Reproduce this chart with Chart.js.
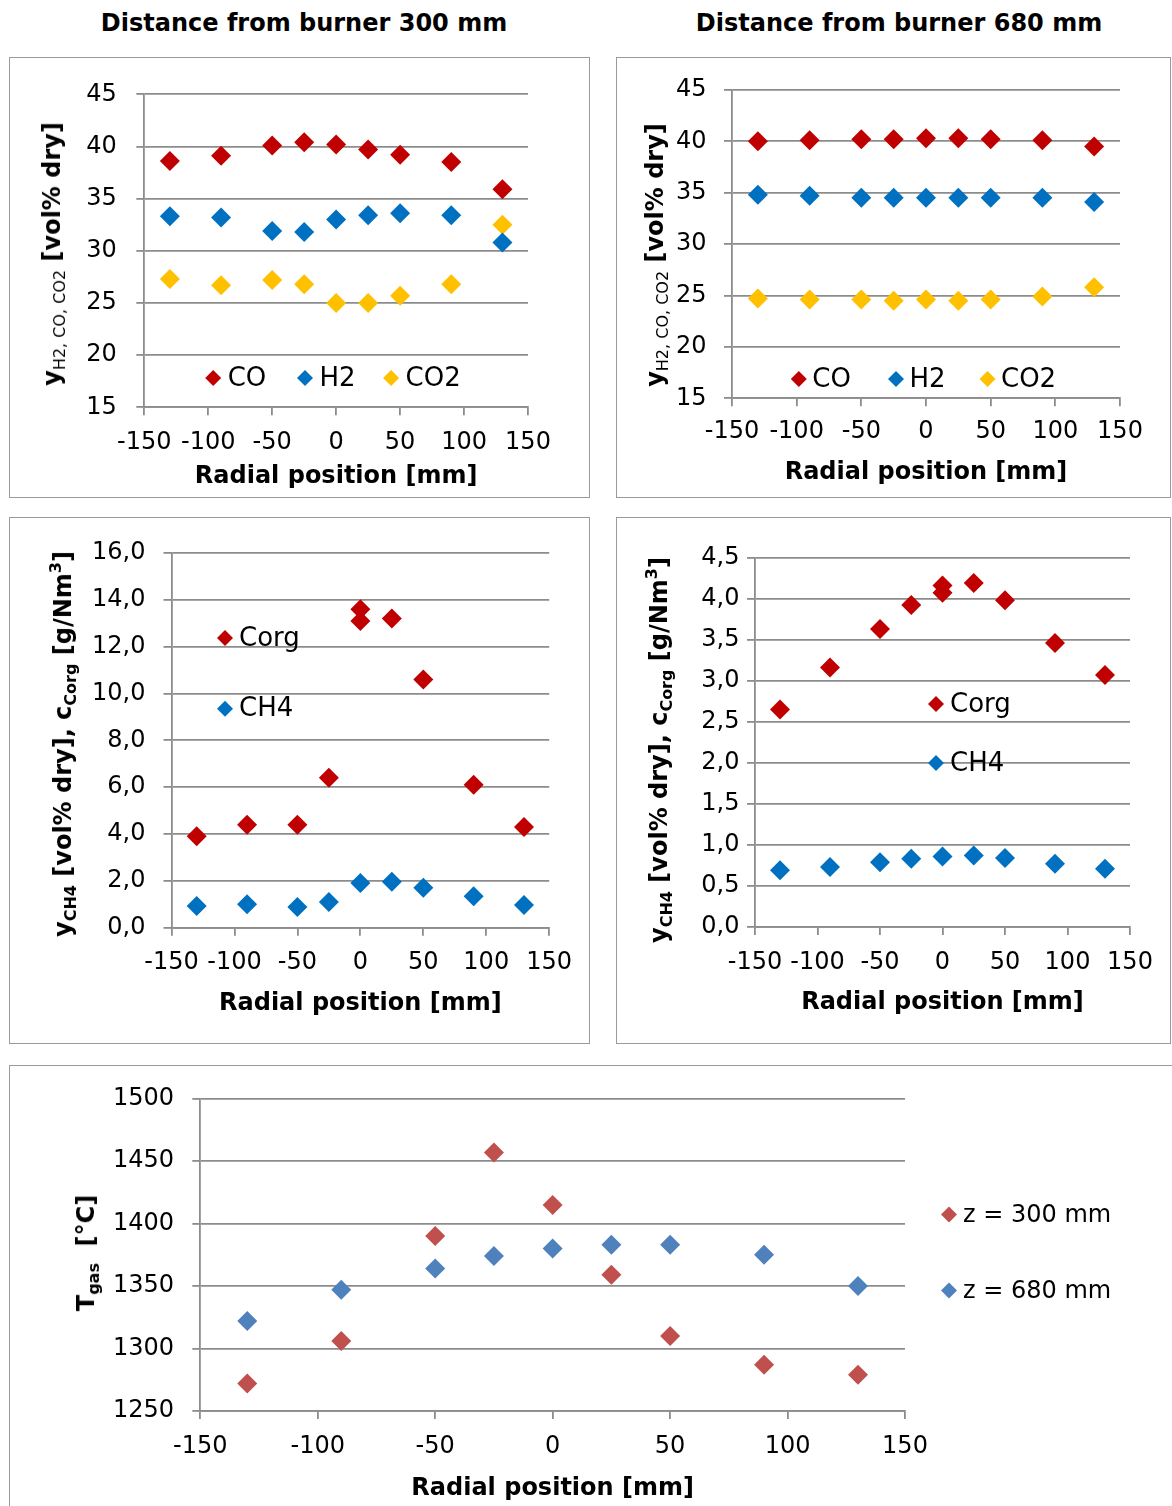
<!DOCTYPE html>
<html><head><meta charset="utf-8">
<script src="https://cdn.jsdelivr.net/npm/chart.js@4.4.1/dist/chart.umd.min.js"></script>
<style>
html,body{margin:0;padding:0;background:#fff;}
body{width:1172px;height:1506px;overflow:hidden;position:relative;font-family:'DejaVu Sans',sans-serif;color:#000;}
.box{position:absolute;border:1px solid #9a9a9a;box-sizing:border-box;}
.box canvas{position:absolute;left:0;top:0;}
.head{position:absolute;transform:translate(-50%,-50%);font-weight:bold;font-size:24px;white-space:nowrap;}
.ytitle{position:absolute;left:0;top:0;transform:translate(-50%,-50%) rotate(-90deg);font-weight:bold;font-size:24px;white-space:nowrap;line-height:1;}
.ytitle sub{font-size:16px;vertical-align:-5px;line-height:0;}
.ytitle sub.n{font-weight:normal;}
.ytitle sup{font-size:16px;vertical-align:10px;line-height:0;}
</style>
</head><body>
<div class="head" style="left:304px;top:23px">Distance from burner 300 mm</div>
<div class="head" style="left:899px;top:23px">Distance from burner 680 mm</div>

<div class="box" id="b1"><canvas id="c1"></canvas></div>
<div class="box" id="b2"><canvas id="c2"></canvas></div>
<div class="box" id="b3"><canvas id="c3"></canvas></div>
<div class="box" id="b4"><canvas id="c4"></canvas></div>
<div class="box" id="b5"><canvas id="c5"></canvas></div>

<div class="ytitle" style="left:52px;top:254px">y<sub class="n">H2, CO, CO2</sub> [vol% dry]</div>
<div class="ytitle" style="left:655px;top:255px">y<sub class="n">H2, CO, CO2</sub> [vol% dry]</div>
<div class="ytitle" style="left:63px;top:744px">y<sub>CH4</sub> [vol% dry], c<sub>Corg</sub> [g/Nm<sup>3</sup>]</div>
<div class="ytitle" style="left:659px;top:750px">y<sub>CH4</sub> [vol% dry], c<sub>Corg</sub> [g/Nm<sup>3</sup>]</div>
<div class="ytitle" style="left:86px;top:1253px">T<sub>gas</sub>&nbsp; [°C]</div>

<script>
// ---------- data ----------
const radialPos = [-130, -90, -50, -25, 0, 25, 50, 90, 130];
const radialPosCorg = [-130, -90, -50, -25, 0, 0, 25, 50, 90, 130];

const co300 = [38.6, 39.1, 40.1, 40.4, 40.2, 39.7, 39.2, 38.5, 35.9];
const h2_300 = [33.3, 33.2, 31.9, 31.8, 33.0, 33.4, 33.6, 33.4, 30.8];
const co2_300 = [27.3, 26.7, 27.2, 26.8, 25.0, 25.0, 25.7, 26.8, 32.5];

const co680 = [40.0, 40.1, 40.2, 40.2, 40.3, 40.3, 40.2, 40.1, 39.5];
const h2_680 = [34.8, 34.7, 34.5, 34.5, 34.5, 34.5, 34.5, 34.5, 34.1];
const co2_680 = [24.7, 24.6, 24.6, 24.5, 24.6, 24.5, 24.6, 24.9, 25.8];

const corg300 = [3.9, 4.4, 4.4, 6.4, 13.6, 13.1, 13.2, 10.6, 6.1, 4.3];
const ch4_300 = [0.93, 1.0, 0.88, 1.10, 1.91, 1.96, 1.71, 1.34, 0.97];

const corg680 = [2.65, 3.16, 3.63, 3.92, 4.16, 4.07, 4.19, 3.98, 3.46, 3.07];
const ch4_680 = [0.69, 0.73, 0.79, 0.83, 0.86, 0.87, 0.84, 0.77, 0.71];

const tgas300 = [1272, 1306, 1390, 1457, 1415, 1359, 1310, 1287, 1279];
const tgas680 = [1322, 1347, 1364, 1374, 1380, 1383, 1383, 1375, 1350];

const xTicks = [-150, -100, -50, 0, 50, 100, 150];
const yTicksGas = [15, 20, 25, 30, 35, 40, 45];
const yTicksC300 = [0, 2, 4, 6, 8, 10, 12, 14, 16];
const yTicksC680 = [0, 0.5, 1, 1.5, 2, 2.5, 3, 3.5, 4, 4.5];
const yTicksT = [1250, 1300, 1350, 1400, 1450, 1500];

// ---------- styles ----------
const FONT = "'DejaVu Sans', sans-serif";
const GRID = '#8c8c8c';
const GW = 1.8;
const RED = '#C00000', BLUE = '#0070C0', YEL = '#FFC000';
const RED2 = '#C0504D', BLUE2 = '#4F81BD';

Chart.defaults.font.family = FONT;
Chart.defaults.color = '#000';

const pts = (xs, ys) => ys.map((v, i) => ({x: xs[i], y: v}));

function ds(label, xs, ys, color) {
  return {label, data: pts(xs, ys), backgroundColor: color, borderColor: color,
          pointStyle: 'rectRot', pointRadius: 10, pointHoverRadius: 10, borderWidth: 0, showLine: false};
}

const floatLegend = {
  id: 'floatLegend',
  afterDatasetsDraw(chart, args, o) {
    const {ctx, chartArea: ca} = chart;
    ctx.save();
    ctx.font = o.size + 'px ' + FONT;
    ctx.textBaseline = 'middle';
    ctx.textAlign = 'left';
    chart.data.datasets.forEach((d, i) => {
      const x = ca.left + (o.dir === 'row' ? o.xs[i] : o.x);
      const y = ca.top + (o.dir === 'row' ? o.y : o.y + i * o.step);
      ctx.fillStyle = d.backgroundColor;
      ctx.beginPath();
      ctx.moveTo(x - o.r, y); ctx.lineTo(x, y - o.r); ctx.lineTo(x + o.r, y); ctx.lineTo(x, y + o.r);
      ctx.closePath(); ctx.fill();
      ctx.fillStyle = '#000';
      ctx.fillText(d.label, x + o.gap, y + 1);
    });
    ctx.restore();
  }
};

function build(id, geo, datasets, yTicks, yFmt, legend) {
  const box = document.getElementById('b' + id);
  const cv = document.getElementById('c' + id);
  box.style.left = geo.box[0] + 'px';
  box.style.top = geo.box[1] + 'px';
  box.style.width = (geo.box[2] - geo.box[0]) + 'px';
  box.style.height = (geo.box[3] - geo.box[1]) + 'px';
  const ox = geo.box[0] + 1, oy = geo.box[1] + 1;
  const W = geo.box[2] - geo.box[0] - 2, H = geo.box[3] - geo.box[1] - 2;
  cv.width = W; cv.height = H;
  const l = geo.plot[0] - ox, t = geo.plot[1] - oy, r = geo.plot[2] - ox, b = geo.plot[3] - oy;
  const half = 14.4;
  const xpad = (geo.xLabelY - oy) - b - 8 - half;
  const tpad = H - half - (geo.xTitleY - oy);
  const ypad = geo.plot[0] - 8 - geo.yLabelRight;
  new Chart(cv, {
    type: 'scatter',
    data: {datasets},
    plugins: [floatLegend],
    options: {
      responsive: false, animation: false, devicePixelRatio: 1,
      layout: {padding: {left: 0, top: t, right: W - r, bottom: 0}},
      plugins: {legend: {display: false}, tooltip: {enabled: false}, floatLegend: legend},
      scales: {
        x: {
          type: 'linear', min: xTicks[0], max: xTicks[xTicks.length - 1],
          afterBuildTicks: a => { a.ticks = xTicks.map(v => ({value: v})); },
          afterFit: s => { s.height = H - b; },
          grid: {display: true, drawOnChartArea: false, drawTicks: true, tickLength: 8, color: GRID, lineWidth: GW},
          border: {display: true, color: GRID, width: GW},
          ticks: {autoSkip: false, maxRotation: 0, minRotation: 0, padding: xpad, color: '#000', font: {size: 24}},
          title: {display: true, text: 'Radial position [mm]', color: '#000', font: {size: 24, weight: 'bold'}, padding: {top: 0, bottom: tpad}}
        },
        y: {
          type: 'linear', min: yTicks[0], max: yTicks[yTicks.length - 1],
          afterBuildTicks: a => { a.ticks = yTicks.map(v => ({value: v})); },
          afterFit: s => { s.width = l; },
          grid: {display: true, drawOnChartArea: true, drawTicks: true, tickLength: 8, color: GRID, lineWidth: GW},
          border: {display: true, color: GRID, width: GW},
          ticks: {padding: ypad, color: '#000', font: {size: 24}, callback: yFmt}
        }
      }
    }
  });
}

const intFmt = v => String(v);
const commaFmt = v => v.toFixed(1).replace('.', ',');

build(1, {box: [9, 57, 590, 498], plot: [144.3, 94.3, 528, 407.3], xLabelY: 443, xTitleY: 477, yLabelRight: 116.7},
  [ds('CO', radialPos, co300, RED), ds('H2', radialPos, h2_300, BLUE), ds('CO2', radialPos, co2_300, YEL)],
  yTicksGas, intFmt, {dir: 'row', y: 283.7, xs: [68.9, 160.7, 246.8], r: 8, gap: 14.5, size: 26});

build(2, {box: [616, 57, 1171, 498], plot: [732, 83, 1120, 398.3], xLabelY: 432, xTitleY: 473, yLabelRight: 706.5},
  [ds('CO', radialPos, co680, RED), ds('H2', radialPos, h2_680, BLUE), ds('CO2', radialPos, co2_680, YEL)],
  yTicksGas, intFmt, {dir: 'row', y: 289, xs: [66.8, 164, 255.5], r: 8, gap: 13.5, size: 26});

build(3, {box: [9, 517, 590, 1044], plot: [171.5, 553, 549.2, 927.7], xLabelY: 962.8, xTitleY: 1004, yLabelRight: 145.4},
  [ds('Corg', radialPosCorg, corg300, RED), ds('CH4', radialPos, ch4_300, BLUE)],
  yTicksC300, commaFmt, {dir: 'col', x: 53.5, y: 85, step: 70.7, r: 8, gap: 14, size: 26});

build(4, {box: [616, 517, 1171, 1044], plot: [755, 557.5, 1130, 927], xLabelY: 962.8, xTitleY: 1002.4, yLabelRight: 739.4},
  [ds('Corg', radialPosCorg, corg680, RED), ds('CH4', radialPos, ch4_680, BLUE)],
  yTicksC680, commaFmt, {dir: 'col', x: 181, y: 146.5, step: 59, r: 8, gap: 14, size: 26});

build(5, {box: [9, 1065, 1180, 1515], plot: [200.3, 1093.3, 905, 1411], xLabelY: 1446.7, xTitleY: 1488.3, yLabelRight: 174},
  [ds('z = 300 mm', radialPos, tgas300, RED2), ds('z = 680 mm', radialPos, tgas680, BLUE2)],
  yTicksT, intFmt, {dir: 'col', x: 748.7, y: 115.7, step: 76, r: 8, gap: 14, size: 24});
</script>
</body></html>
